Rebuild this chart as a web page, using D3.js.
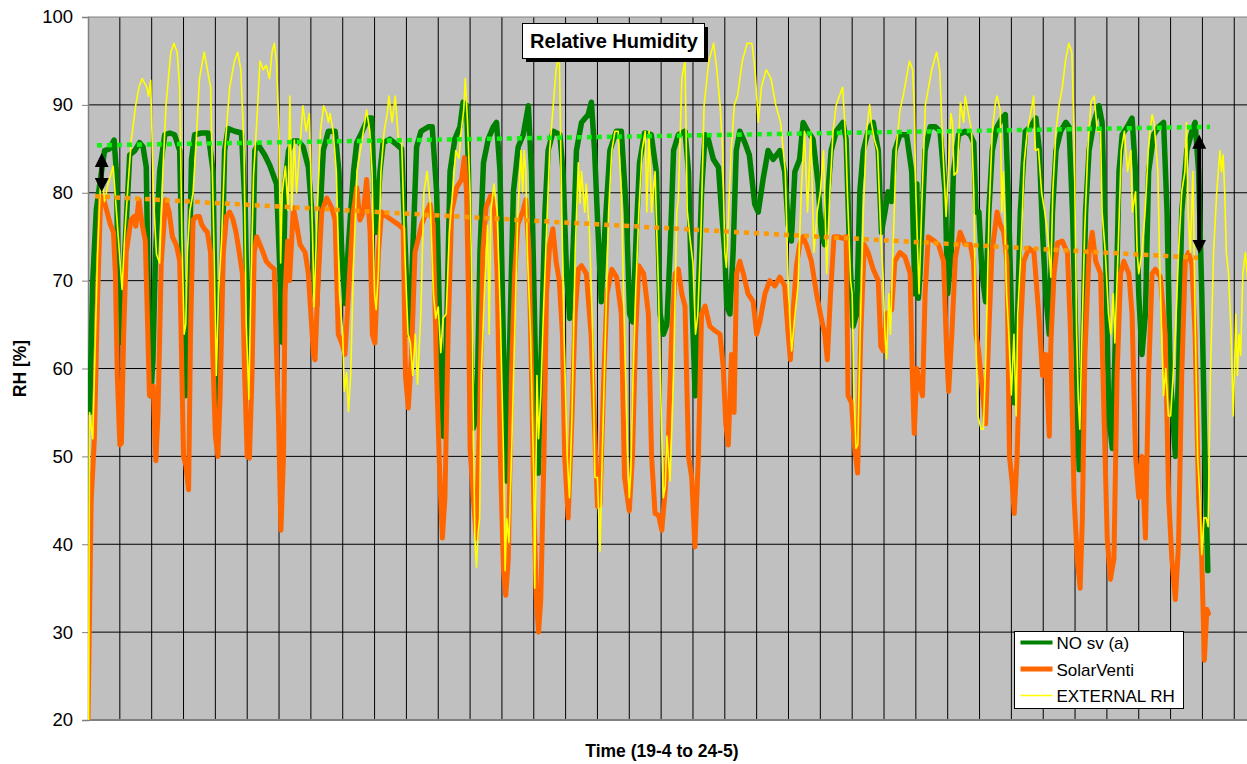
<!DOCTYPE html>
<html>
<head>
<meta charset="utf-8">
<script src="https://cdn.jsdelivr.net/npm/d3@7"></script>
<style>
  body { margin: 0; background: #fff; }
  text { font-family: "Liberation Sans", Arial, sans-serif; }
</style>
</head>
<body>
<script>
// each point is [day since 19-4, RH %]
var noSv = [[0.05,55],[0.15,70],[0.26,78],[0.37,81],[0.52,84.8],[0.68,85],[0.82,86],[0.89,82.4],[0.95,70],[1.02,63],
  [1.15,73],[1.31,84.3],[1.47,84.8],[1.62,85.7],[1.73,85.2],[1.83,82.9],[1.9,66.7],[1.97,56.9],[2.04,61],[2.12,73],
  [2.25,82.4],[2.41,86.6],[2.57,86.8],[2.72,86.6],[2.88,84.8],[2.96,70.8],[3.06,56.9],[3.14,63.9],[3.25,83.8],[3.35,86.6],
  [3.56,86.8],[3.77,86.8],[3.93,82.4],[4.01,61.6],[4.08,55.5],[4.19,68.5],[4.29,84.8],[4.4,87.3],[4.61,87],[4.82,86.8],
  [4.94,77.8],[5.05,56.9],[5.13,63.9],[5.24,84.8],[5.34,85.5],[5.55,84.3],[5.71,83.1],[5.92,81],[6.02,71.7],[6.1,63],
  [6.2,81.5],[6.3,84.8],[6.45,85.9],[6.6,85.9],[6.76,85.2],[6.92,82.9],[7.03,77.8],[7.13,68.5],[7.18,67.1],[7.29,77.8],
  [7.39,84.8],[7.55,87],[7.76,87],[7.88,82.4],[7.97,73.2],[8.07,67.4],[8.18,74.1],[8.34,82.4],[8.44,85.7],[8.59,86.8],
  [8.8,88.5],[8.91,88.5],[8.99,80.1],[9.06,75.5],[9.17,82.4],[9.27,85.7],[9.48,86.1],[9.69,85.5],[9.85,85],[9.97,73.2],
  [10.06,63.9],[10.16,69.4],[10.32,85.2],[10.46,87],[10.69,87.5],[10.81,87.5],[10.95,80.1],[11.05,63.9],[11.16,52.3],[11.26,63.9],
  [11.37,82.4],[11.52,86.1],[11.68,87.5],[11.78,90.3],[11.89,89.9],[11.95,82.4],[12.0,63.9],[12.1,53.2],[12.21,54.6],[12.31,73.2],
  [12.42,83.4],[12.57,86.1],[12.73,87.5],[12.83,88],[12.94,82.4],[13.04,63.9],[13.15,47.2],[13.25,63.9],[13.36,80.1],[13.51,85.2],
  [13.67,86.6],[13.83,89.9],[13.93,82.4],[14.04,62.9],[14.14,48.1],[14.25,63.9],[14.35,77.8],[14.45,84.8],[14.61,87],[14.82,86.6],
  [14.92,82.4],[15.03,70.8],[15.13,65.7],[15.24,74.1],[15.34,84.8],[15.5,88],[15.71,88.9],[15.81,90.3],[15.91,84.8],[16.02,75.5],
  [16.12,67.6],[16.23,75.5],[16.39,84.8],[16.59,87],[16.75,87],[16.91,77.8],[17.01,66.2],[17.11,65.3],[17.22,75.5],[17.32,83.4],
  [17.48,86.8],[17.69,86.6],[17.85,82.4],[17.97,66.2],[18.07,63.9],[18.18,65],[18.28,73.2],[18.39,84.8],[18.54,86.6],[18.75,87],
  [18.86,82.4],[18.96,68.5],[19.07,56.9],[19.17,68.5],[19.27,80.1],[19.38,86.6],[19.48,86.1],[19.64,83.8],[19.8,82.9],[19.9,77.8],
  [20.0,73.2],[20.06,67.1],[20.16,66.2],[20.26,73.2],[20.36,84.8],[20.47,87],[20.63,85.7],[20.77,84.3],[20.94,78.7],[21.05,77.8],
  [21.2,81.5],[21.36,84.8],[21.52,83.8],[21.73,84.8],[21.88,82.4],[21.99,76.4],[22.09,74.5],[22.2,82.4],[22.35,83.8],[22.46,88],
  [22.61,87],[22.77,86.1],[22.93,81],[23.03,75.5],[23.13,74.1],[23.24,80.1],[23.34,84.8],[23.5,87],[23.71,88],[23.81,86.1],
  [23.92,73.2],[24.03,64.8],[24.14,66.2],[24.24,80.1],[24.35,84.8],[24.5,87],[24.66,88],[24.82,84.8],[24.92,75.5],[25.03,77.8],
  [25.13,80.1],[25.24,79],[25.34,84.8],[25.5,86.6],[25.71,86.6],[25.87,82.4],[25.97,68.5],[26.03,81],[26.08,68],[26.13,70.8],
  [26.29,84.8],[26.45,87.5],[26.61,87.5],[26.76,87],[26.92,80.1],[27.0,68.5],[27.11,73.2],[27.18,82.4],[27.34,86.6],[27.55,87],
  [27.71,86.6],[27.82,85.7],[27.89,77.8],[27.98,77.8],[28.08,70.8],[28.19,67.6],[28.29,77.8],[28.4,84.8],[28.55,87.5],[28.71,88.5],
  [28.81,88.9],[28.92,77.8],[29.02,63.9],[29.09,56.1],[29.18,63.9],[29.28,77.8],[29.44,87],[29.6,87.5],[29.77,88.5],[29.88,84.8],
  [29.98,75.5],[30.08,68.5],[30.19,63.9],[30.29,77.8],[30.4,84.8],[30.55,87],[30.71,88],[30.81,87.5],[30.92,77.8],[31.02,63.9],
  [31.13,48.5],[31.23,59.2],[31.33,77.8],[31.44,84.8],[31.59,88],[31.75,89.9],[31.85,88],[31.96,73.2],[32.06,54.6],[32.17,50.9],
  [32.27,63.9],[32.38,82.4],[32.48,86.6],[32.64,87.5],[32.79,88.5],[32.9,82.4],[33.0,68.5],[33.1,61.6],[33.21,66.2],[33.31,82.4],
  [33.47,86.6],[33.63,87.5],[33.78,88],[33.89,77.8],[33.99,59.2],[34.15,50],[34.25,59.2],[34.35,77.8],[34.51,84.8],[34.67,87],
  [34.77,88],[34.88,82.4],[34.98,68.5],[35.08,50],[35.17,37]];

var solarVenti = [[0.0,20],[0.04,30],[0.1,45],[0.2,52],[0.3,68],[0.4,79.6],[0.5,79.2],[0.6,77.8],[0.7,76.4],[0.8,75.5],
  [0.86,70.8],[0.92,59.2],[1.0,51.3],[1.05,51.5],[1.12,63.9],[1.2,73.2],[1.35,76.9],[1.45,77.3],[1.5,76.2],[1.6,79.2],
  [1.7,76.4],[1.8,74.5],[1.88,63.9],[1.93,56.9],[2.05,58],[2.13,49.5],[2.2,55],[2.3,72],[2.44,79.2],[2.55,77.8],
  [2.65,75],[2.78,74],[2.88,72.2],[2.95,59.2],[3.0,50],[3.07,49],[3.16,46.2],[3.22,63.9],[3.3,76.9],[3.4,77.3],
  [3.5,77.3],[3.57,76.4],[3.65,75.9],[3.75,75.5],[3.85,73.2],[3.92,61.6],[4.0,52.3],[4.08,50],[4.15,57],[4.25,73.2],
  [4.35,77.3],[4.45,77.8],[4.55,77],[4.65,75.5],[4.75,73.2],[4.85,70.8],[4.92,59.2],[5.0,50],[5.07,49.8],[5.15,59.2],
  [5.22,73.2],[5.3,75],[5.4,74.1],[5.5,73.2],[5.6,72.2],[5.72,71.7],[5.85,71.3],[5.92,62],[5.98,54.6],[6.06,41.6],
  [6.14,50],[6.19,68.5],[6.27,74.5],[6.33,70],[6.45,78.3],[6.55,76.4],[6.66,74.1],[6.82,73.2],[6.92,70.8],[7.0,66.2],
  [7.08,61.6],[7.13,61],[7.21,68.5],[7.34,77.8],[7.5,79.4],[7.65,78.3],[7.76,76.9],[7.86,63.9],[7.97,62.9],[8.07,61.6],
  [8.18,68.5],[8.33,77.8],[8.44,80.6],[8.54,76.9],[8.65,77.8],[8.75,81.5],[8.86,75.5],[8.93,63.9],[9.01,62.9],[9.12,73.2],
  [9.22,77.8],[9.38,77.3],[9.54,76.9],[9.74,76.4],[9.9,75.9],[9.97,59.2],[10.06,55.5],[10.16,61.6],[10.27,73.2],[10.48,76.4],
  [10.63,77.8],[10.74,78.7],[10.84,76.4],[10.95,59.2],[11.05,47.6],[11.13,40.7],[11.21,45.3],[11.31,63.9],[11.42,77.8],[11.58,80.6],
  [11.73,81.5],[11.82,84],[11.89,80],[11.95,68],[12.0,50.9],[12.1,45.3],[12.2,40.7],[12.3,54.6],[12.4,73.2],[12.5,78.3],
  [12.65,79.7],[12.75,79.2],[12.85,70.8],[12.95,50],[13.05,37],[13.12,34.2],[13.2,38.3],[13.3,59.2],[13.4,70.8],[13.5,76.4],
  [13.65,77.8],[13.75,79.2],[13.85,73.2],[13.93,59.2],[14.0,45.3],[14.08,33.7],[14.15,30],[14.22,33.7],[14.32,50],[14.4,68.5],
  [14.5,74.1],[14.6,75.9],[14.7,72.2],[14.8,70],[14.9,63.9],[14.97,50],[15.08,43],[15.2,54.6],[15.3,66.2],[15.4,71.3],
  [15.5,71.7],[15.65,70.8],[15.8,63.9],[15.92,52.3],[16.0,44.3],[16.08,44.5],[16.2,59.2],[16.3,68.5],[16.45,71.3],[16.6,70.4],
  [16.75,66.2],[16.85,47.6],[17.0,43.8],[17.1,50],[17.2,63.9],[17.3,71.7],[17.45,70.8],[17.6,66.2],[17.7,50],[17.81,43.5],
  [17.92,43.3],[18.02,41.6],[18.13,46.2],[18.23,52.3],[18.33,63.9],[18.44,70.8],[18.54,71.3],[18.65,68.5],[18.75,67.1],[18.86,50],
  [18.96,47.6],[19.06,39.7],[19.17,50],[19.27,66.2],[19.38,67.1],[19.53,64.8],[19.69,64.3],[19.85,63.9],[19.95,60.2],[20.03,53.7],
  [20.11,51.3],[20.21,61.6],[20.29,55],[20.37,70.8],[20.47,72.2],[20.58,70.8],[20.73,68.5],[20.89,67.6],[21.0,63.9],[21.1,65.3],
  [21.26,68.5],[21.41,70],[21.57,69.4],[21.73,70.4],[21.88,69.4],[21.99,63.9],[22.06,61],[22.14,66.2],[22.25,71.7],[22.35,74.1],
  [22.46,75],[22.56,74.1],[22.72,72.2],[22.88,68.5],[23.03,65.7],[23.14,63.9],[23.22,61],[23.32,68.5],[23.43,75],[23.55,75],
  [23.71,74.8],[23.81,75],[23.87,56.9],[23.98,56.1],[24.08,50.9],[24.17,48.1],[24.27,63.9],[24.38,74.1],[24.5,73.2],[24.66,71.3],
  [24.82,70],[24.9,62.5],[24.98,62],[25.08,66.2],[25.24,66.7],[25.34,72.2],[25.5,73.2],[25.66,72.7],[25.82,70.8],[25.89,59.2],
  [25.95,52.6],[26.03,60],[26.13,58],[26.21,56.9],[26.29,68.5],[26.39,75],[26.55,74.6],[26.71,74.1],[26.87,72.2],[26.97,61.6],
  [27.03,57.4],[27.13,63.9],[27.24,72.6],[27.39,75.5],[27.55,74.1],[27.71,74.1],[27.81,72.2],[27.89,63.9],[27.97,62],[28.08,57.8],
  [28.19,53.7],[28.29,63.9],[28.39,73.2],[28.55,77.8],[28.65,76.4],[28.76,75.5],[28.86,72.2],[28.94,50],[29.02,47.2],[29.09,43.5],
  [29.18,50],[29.28,63.9],[29.39,72.2],[29.55,73.7],[29.71,73.2],[29.86,66.2],[29.98,59.2],[30.08,61.6],[30.19,52.3],[30.24,62.9],
  [30.34,70.8],[30.45,74.3],[30.6,74.5],[30.76,73.2],[30.86,63.9],[30.97,45.3],[31.07,38.3],[31.16,35],[31.23,43],[31.31,61.6],
  [31.44,73.2],[31.54,75.5],[31.65,72.2],[31.8,70.8],[31.91,54.6],[32.01,40.7],[32.11,36],[32.22,38.3],[32.32,59.2],[32.43,70.8],
  [32.53,72.2],[32.69,70.8],[32.79,66.2],[32.9,50],[33.0,45.3],[33.1,50],[33.21,40.7],[33.31,59.2],[33.42,70.8],[33.52,71.3],
  [33.68,70.4],[33.83,63.9],[33.94,45.3],[34.04,38.3],[34.15,33.7],[34.25,40],[34.35,59.2],[34.46,72.2],[34.56,73.2],[34.67,71.8],
  [34.77,63.9],[34.88,45.3],[34.98,38.3],[35.06,26.8],[35.14,32.6],[35.19,32.1]];

var externalRh = [[0.02,20],[0.05,55],[0.15,52],[0.3,73],[0.42,83.5],[0.52,79],[0.63,81],[0.79,83],[0.89,78],[0.99,73],
  [1.07,69],[1.15,75],[1.26,81],[1.36,86],[1.5,90],[1.6,92],[1.7,93],[1.85,92],[1.9,91],[1.97,92.8],
  [2.05,80],[2.15,73],[2.25,72],[2.35,82.4],[2.45,90],[2.6,96],[2.7,97],[2.8,96],[2.88,92],[2.95,75],
  [3.02,63.9],[3.07,65],[3.12,73.2],[3.2,78],[3.3,80],[3.4,86],[3.5,93],[3.65,96],[3.75,94],[3.85,92],
  [3.95,75],[4.03,59.2],[4.1,68.5],[4.2,75],[4.3,85],[4.45,92],[4.6,95],[4.7,96],[4.8,94],[4.9,85],
  [4.97,65],[5.05,56.5],[5.12,70],[5.2,82],[5.3,88],[5.4,95],[5.5,94],[5.6,94.5],[5.7,93],[5.78,96],
  [5.85,97],[5.92,95],[6.0,87],[6.05,72],[6.1,80],[6.2,83],[6.28,78],[6.34,91],[6.4,78],[6.48,86],
  [6.55,80],[6.65,85],[6.75,89.9],[6.85,87],[6.95,89],[7.05,75.5],[7.1,67],[7.2,77.8],[7.3,87],[7.4,89.9],
  [7.5,89],[7.55,88],[7.6,89],[7.7,87],[7.8,82.4],[7.9,68.5],[8.0,63.9],[8.05,57.4],[8.12,59.5],[8.18,55.1],
  [8.25,59.2],[8.33,70.8],[8.45,82.4],[8.55,84.8],[8.65,87],[8.75,89.4],[8.85,87],[8.92,82.4],[9.0,68.5],[9.05,66.7],
  [9.12,71],[9.2,82.4],[9.3,87],[9.4,89],[9.45,91],[9.55,88],[9.65,91],[9.75,86],[9.85,86.1],[9.95,73.2],
  [10.05,63.9],[10.12,63],[10.2,59.2],[10.28,63.9],[10.35,58.2],[10.45,66],[10.55,80.1],[10.65,82.4],[10.75,78.8],[10.85,68.5],
  [10.92,65.7],[11.0,67],[11.08,61.8],[11.15,65.7],[11.25,66.2],[11.35,75.5],[11.45,80.1],[11.55,84.8],[11.65,83.9],[11.72,87],
  [11.8,89.4],[11.85,93],[11.92,88],[12.0,80],[12.05,70.8],[12.1,54.6],[12.15,40.7],[12.2,37.4],[12.25,41.2],[12.3,43],
  [12.35,59.2],[12.45,68.5],[12.55,76.3],[12.6,63.9],[12.65,77.8],[12.75,81],[12.85,77.8],[12.95,66.2],[13.05,50],[13.1,37],
  [13.15,42.9],[13.22,40.2],[13.3,50],[13.4,63.9],[13.5,77.8],[13.6,84.8],[13.65,80.1],[13.7,84.8],[13.75,82.4],[13.8,73.2],
  [13.9,63.9],[14.0,47.6],[14.03,35],[14.1,59.2],[14.15,52],[14.22,56.9],[14.3,66],[14.4,75.5],[14.5,84.8],[14.6,89.4],
  [14.7,94],[14.8,96],[14.88,77.8],[14.95,63.9],[15.05,50],[15.12,45.3],[15.2,54.6],[15.3,73.2],[15.4,83.4],[15.45,78.8],
  [15.5,82.4],[15.55,80.1],[15.6,77.8],[15.65,81],[15.75,75.4],[15.85,63.9],[15.92,47.6],[16.0,47.6],[16.08,39.2],[16.15,50],
  [16.25,63.9],[16.35,77.8],[16.45,84.8],[16.55,87],[16.65,87],[16.75,80.1],[16.85,63.9],[16.95,50],[17.0,45.3],[17.05,48.5],
  [17.12,59.2],[17.2,68.5],[17.3,77.8],[17.4,84.8],[17.5,87],[17.55,77.8],[17.62,87],[17.7,77.8],[17.81,82.4],[17.92,68.5],
  [18.02,52.3],[18.07,45.3],[18.13,46.6],[18.18,52.3],[18.28,47.2],[18.39,59.2],[18.49,77.8],[18.54,79.2],[18.65,93],[18.75,95],
  [18.82,78],[18.9,75],[19.0,72],[19.08,63.9],[19.15,66],[19.25,75.4],[19.35,90],[19.5,95],[19.65,97],[19.75,94],
  [19.85,90],[19.93,85],[20.0,73.2],[20.05,71.5],[20.12,77.8],[20.2,84.8],[20.3,90],[20.4,91],[20.55,95],[20.7,97],
  [20.85,97],[20.95,94],[21.05,88],[21.15,92],[21.3,94],[21.45,93],[21.6,90],[21.75,88],[21.9,82.4],[22.0,68.5],
  [22.1,62],[22.2,66],[22.3,69.4],[22.4,80.1],[22.5,87],[22.6,77.8],[22.7,87],[22.8,73.2],[22.9,77.8],[23.0,80.1],
  [23.1,84.8],[23.2,70.8],[23.3,80.1],[23.4,87],[23.5,90],[23.6,91],[23.7,92],[23.8,86],[23.85,80],[23.95,70],
  [24.0,68.5],[24.05,57.8],[24.12,50.9],[24.18,51.4],[24.25,63.9],[24.35,77.8],[24.45,87],[24.55,90],[24.6,88],[24.7,86],
  [24.8,84.8],[24.9,75.4],[24.97,70.4],[25.03,63.9],[25.08,61.1],[25.15,68.5],[25.2,63.9],[25.28,73.2],[25.38,84.8],[25.5,89.4],
  [25.6,91],[25.7,93],[25.8,95],[25.9,94],[25.95,90],[26.0,80],[26.1,68.5],[26.2,80.1],[26.3,90],[26.5,94],
  [26.65,96],[26.75,94],[26.85,84.8],[26.95,77.3],[27.02,82.4],[27.1,89],[27.15,88],[27.2,82],[27.3,82.4],[27.4,90.3],
  [27.5,88],[27.55,91],[27.65,89],[27.75,87],[27.82,80.1],[27.88,63.9],[27.95,54.6],[28.05,53.1],[28.12,53.1],[28.2,61.5],
  [28.3,77.8],[28.4,87],[28.5,90.3],[28.55,91],[28.65,89.4],[28.7,77.8],[28.75,82.4],[28.85,68.5],[28.92,63.9],[29.0,57],
  [29.08,63.9],[29.15,54.6],[29.2,66.2],[29.3,73.2],[29.4,83.4],[29.5,87],[29.6,88.9],[29.7,91],[29.75,84.8],[29.85,85],
  [29.95,80],[30.05,77.8],[30.15,75],[30.24,70.4],[30.3,80.1],[30.4,87],[30.5,90],[30.6,92],[30.7,95],[30.8,97],
  [30.9,96],[30.97,87],[31.05,63.9],[31.1,56.5],[31.15,53.1],[31.2,61.5],[31.3,75.4],[31.4,84.8],[31.5,90.3],[31.6,91],
  [31.7,87],[31.8,87],[31.85,77.8],[31.95,73.2],[32.05,66.2],[32.12,63.9],[32.2,68.5],[32.25,62.9],[32.35,73.2],[32.45,84.8],
  [32.55,87],[32.65,82.4],[32.75,84.8],[32.8,77.8],[32.9,80.1],[32.95,73.2],[33.0,70.8],[33.1,73.2],[33.2,77.8],[33.3,84.8],
  [33.35,87],[33.42,88.9],[33.48,88],[33.55,84.8],[33.6,82.4],[33.65,73.2],[33.72,63.9],[33.78,56.9],[33.85,60],[33.93,54.6],
  [34.0,54.6],[34.08,59.2],[34.15,63.9],[34.25,73.2],[34.35,80.1],[34.45,82.4],[34.5,88],[34.55,77.8],[34.62,73.2],[34.7,82.4],
  [34.78,63.9],[34.85,50],[34.92,45.3],[34.98,38.8],[35.05,43],[35.12,43],[35.18,42],[35.25,59.2],[35.35,73.2],[35.45,80.1],
  [35.55,84.8],[35.6,82.4],[35.65,84.3],[35.7,80.1],[35.75,73.2],[35.82,70.8],[35.9,63.9],[35.97,54.6],[36.05,66.2],[36.1,59.2],
  [36.15,63.9],[36.2,61.5],[36.27,70.8],[36.35,73.2],[36.42,70]];

// linear trends drawn as dotted lines
var trendNoSv = [[0.28, 85.4], [35.24, 87.5]];
var trendSolarVenti = [[0.22, 79.6], [34.86, 72.6]];
// the two difference arrows: [day, from RH, to RH]
var arrows = [[0.43, 84.4, 80.2], [34.9, 86.5, 73.2]];

var yTicks = [20, 30, 40, 50, 60, 70, 80, 90, 100];
var dayCount = 36.4;
var seriesNames = ["NO sv (a)", "SolarVenti", "EXTERNAL RH"];
var seriesColors = ["#008000", "#ff6600", "#ffff00"];

var width = 1247, height = 764;
var margin = {left: 88, right: 0, top: 17, bottom: 44};

var svg = d3.select("body").append("svg")
  .attr("width", width)
  .attr("height", height);

var x = d3.scaleLinear().domain([0, dayCount]).range([margin.left, width - margin.right]);
var y = d3.scaleLinear().domain([20, 100]).range([height - margin.bottom, margin.top]);

// plot background
svg.append("rect")
  .attr("x", x(0)).attr("y", y(100))
  .attr("width", x(dayCount) - x(0)).attr("height", y(20) - y(100))
  .attr("fill", "#c0c0c0");

svg.append("defs").append("clipPath").attr("id", "plot")
  .append("rect")
  .attr("x", x(0)).attr("y", y(100) - 3)
  .attr("width", x(dayCount) - x(0)).attr("height", y(20) - y(100) + 3);

// gridlines: one vertical per day, one horizontal per 10 %
svg.append("g")
  .selectAll("line")
  .data(d3.range(1, Math.floor(dayCount) + 1))
  .enter().append("line")
  .attr("x1", d => x(d)).attr("x2", d => x(d))
  .attr("y1", y(100)).attr("y2", y(20))
  .attr("stroke", "#000").attr("stroke-width", 1);

svg.append("g")
  .selectAll("line")
  .data(yTicks.filter(d => d > 20))
  .enter().append("line")
  .attr("x1", x(0)).attr("x2", x(dayCount))
  .attr("y1", d => y(d)).attr("y2", d => y(d))
  .attr("stroke", d => d == 100 ? "#808080" : "#000").attr("stroke-width", 1);

// y axis
var yAxis = svg.append("g")
  .attr("transform", "translate(" + x(0) + ",0)")
  .call(d3.axisLeft(y).tickValues(yTicks).tickSize(6).tickPadding(9));
yAxis.select(".domain").attr("stroke", "#808080").attr("stroke-width", 1.5);
yAxis.selectAll(".tick line").attr("stroke", "#808080");
yAxis.selectAll(".tick text")
  .attr("fill", "#000")
  .style("font-family", "'Liberation Sans', Arial, sans-serif")
  .style("font-size", "18.5px");

// x axis line (no labels)
svg.append("line")
  .attr("x1", x(0)).attr("x2", x(dayCount))
  .attr("y1", y(20)).attr("y2", y(20))
  .attr("stroke", "#808080").attr("stroke-width", 2);

var line = d3.line()
  .x(d => x(d[0]))
  .y(d => y(d[1]));

var plot = svg.append("g").attr("clip-path", "url(#plot)");

plot.append("path").datum(noSv)
  .attr("d", line).attr("fill", "none")
  .attr("stroke", seriesColors[0]).attr("stroke-width", 5.5)
  .attr("stroke-linejoin", "round").attr("stroke-linecap", "round");

plot.append("path").datum(solarVenti)
  .attr("d", line).attr("fill", "none")
  .attr("stroke", seriesColors[1]).attr("stroke-width", 5)
  .attr("stroke-linejoin", "round").attr("stroke-linecap", "round");

plot.append("path").datum(externalRh)
  .attr("d", line).attr("fill", "none")
  .attr("stroke", seriesColors[2]).attr("stroke-width", 1.6)
  .attr("stroke-linejoin", "round");

// trend lines
plot.append("path").datum(trendNoSv)
  .attr("d", line).attr("fill", "none")
  .attr("stroke", "#11f011").attr("stroke-width", 4.5)
  .attr("stroke-dasharray", "5,5");

plot.append("path").datum(trendSolarVenti)
  .attr("d", line).attr("fill", "none")
  .attr("stroke", "#ff9900").attr("stroke-width", 4.5)
  .attr("stroke-dasharray", "5,5");

// double headed arrows
var marker = svg.select("defs");
["start", "end"].forEach(function (k) {
  marker.append("marker")
    .attr("id", "head-" + k)
    .attr("viewBox", "0 0 10 10")
    .attr("refX", 5).attr("refY", 5)
    .attr("markerUnits", "userSpaceOnUse")
    .attr("markerWidth", 14).attr("markerHeight", 14)
    .attr("orient", k == "start" ? "auto-start-reverse" : "auto")
    .append("path")
    .attr("d", "M0,0 L10,5 L0,10 Z")
    .attr("fill", "#000");
});

svg.append("g")
  .selectAll("line")
  .data(arrows)
  .enter().append("line")
  .attr("x1", d => x(d[0])).attr("x2", d => x(d[0]))
  .attr("y1", d => y(d[1]) + 6).attr("y2", d => y(d[2]) - 6)
  .attr("stroke", "#000").attr("stroke-width", 4)
  .attr("marker-start", "url(#head-start)")
  .attr("marker-end", "url(#head-end)");

// title box
var title = svg.append("g");
title.append("rect")
  .attr("x", 526).attr("y", 27).attr("width", 182).attr("height", 35)
  .attr("fill", "#000");
title.append("rect")
  .attr("x", 522.5).attr("y", 23.5).attr("width", 182).attr("height", 35)
  .attr("fill", "#fff").attr("stroke", "#000").attr("stroke-width", 1);
title.append("text")
  .attr("x", 614).attr("y", 48)
  .attr("text-anchor", "middle")
  .style("font-size", "20px").style("font-weight", "bold")
  .text("Relative Humidity");

// axis titles
svg.append("text")
  .attr("transform", "translate(26," + y(60) + ") rotate(-90)")
  .attr("text-anchor", "middle")
  .style("font-size", "17.5px").style("font-weight", "bold")
  .text("RH [%]");

svg.append("text")
  .attr("x", 662).attr("y", 757)
  .attr("text-anchor", "middle")
  .style("font-size", "17.5px").style("font-weight", "bold")
  .text("Time (19-4 to 24-5)");

// legend
var legend = svg.append("g").attr("transform", "translate(1014.5,631.5)");
legend.append("rect")
  .attr("width", 169).attr("height", 77)
  .attr("fill", "#fff").attr("stroke", "#000").attr("stroke-width", 1);
var rows = legend.selectAll("g.row")
  .data(seriesNames)
  .enter().append("g")
  .attr("class", "row")
  .attr("transform", (d, i) => "translate(0," + (11 + i * 26.5) + ")");
rows.append("line")
  .attr("x1", 6).attr("x2", 38)
  .attr("stroke", (d, i) => seriesColors[i])
  .attr("stroke-width", (d, i) => [4, 5, 1.6][i]);
rows.append("text")
  .attr("x", 42).attr("y", 6.5)
  .style("font-size", "17px")
  .text(d => d);
</script>
</body>
</html>
